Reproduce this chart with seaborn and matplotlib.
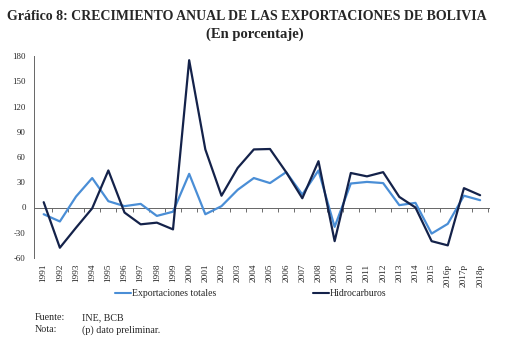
import matplotlib
matplotlib.use("Agg")
import matplotlib.pyplot as plt
import seaborn as sns
import pandas as pd
import numpy as np

years = ["1991", "1992", "1993", "1994", "1995", "1996", "1997", "1998", "1999",
         "2000", "2001", "2002", "2003", "2004", "2005", "2006", "2007", "2008",
         "2009", "2010", "2011", "2012", "2013", "2014", "2015", "2016p",
         "2017p", "2018p"]
exportaciones_totales = [-8, -16.6, 13, 35, 7.5, 1.6, 4.3, -10, -5, 40, -8, 1.6,
                         21, 35, 29, 42, 15.4, 44, -23, 28.5, 30.4, 29, 2.8,
                         5.5, -31, -19.4, 14, 8.7]
hidrocarburos = [6.3, -47.8, -24, -1, 44, -6, -20, -18, -26, 175, 69, 14, 47,
                 69, 69.5, 42, 11, 55, -40, 41, 37, 42, 12.6, 0, -40, -45, 23,
                 14.6]
series_names = ["Exportaciones totales", "Hidrocarburos"]
series_colors = ["#4A8ED6", "#14224A"]
y_ticks = [-60, -30, 0, 30, 60, 90, 120, 150, 180]

sns.set_theme(style="white")
plt.rcParams["font.family"] = ["Liberation Serif", "DejaVu Serif"]

df = pd.DataFrame({
    "pos": list(range(len(years))) * 2,
    "valor": exportaciones_totales + hidrocarburos,
    "serie": [series_names[0]] * len(years) + [series_names[1]] * len(years),
})

fig = plt.figure(figsize=(5.12, 3.42), dpi=100)
ax = fig.add_axes([34 / 512, 1 - 258 / 342, (489 - 34) / 512, (258 - 56) / 342])

sns.lineplot(data=df, x="pos", y="valor", hue="serie", hue_order=series_names,
             palette=series_colors, linewidth=1.6, ax=ax, legend=False)

ax.set_xlim(-0.6, len(years) - 0.45)
ax.set_ylim(-60, 180)
ax.set_yticks(y_ticks)
ax.set_yticklabels([str(v) for v in y_ticks], fontsize=6.3)
ax.set_xticks(range(len(years)))
ax.set_xticklabels(years, rotation=90, fontsize=6.7)
ax.tick_params(axis="x", length=0, pad=4)
ax.tick_params(axis="y", length=3, width=0.6, color="#555555", direction="out", pad=3)
ax.set_xlabel("")
ax.set_ylabel("")
for side in ["top", "right", "bottom"]:
    ax.spines[side].set_visible(False)
ax.spines["left"].set_color("#666666")
ax.spines["left"].set_linewidth(0.7)

# category axis drawn along the zero line, ticks between categories
zero_frac = (0 - (-60)) / (180 - (-60))
sec = ax.secondary_xaxis(zero_frac)
sec.set_xticks(np.arange(0.5, len(years) - 0.5 + 0.01, 1.0))
sec.set_xticklabels([])
sec.tick_params(length=3, width=0.6, color="#555555", direction="out")
sec.spines["bottom"].set_color("#666666")
sec.spines["bottom"].set_linewidth(0.7)

handles = [plt.Line2D([], [], color=c, lw=1.5) for c in series_colors]
fig.legend(handles, series_names, loc="center", bbox_to_anchor=(0.49, 1 - 294 / 342),
           ncol=2, frameon=False, fontsize=7, handlelength=1.6, handletextpad=0.1,
           columnspacing=10)

fig.text(247 / 512, 1 - 16 / 342, "Gráfico 8: CRECIMIENTO ANUAL DE LAS EXPORTACIONES DE BOLIVIA",
         ha="center", va="center", fontsize=10, fontweight="bold")
fig.text(255 / 512, 1 - 34 / 342, "(En porcentaje)", ha="center", va="center",
         fontsize=10.5, fontweight="bold")

fig.text(35 / 512, 1 - 318 / 342, "Fuente:", ha="left", va="center", fontsize=7.2)
fig.text(82 / 512, 1 - 318 / 342, "INE, BCB", ha="left", va="center", fontsize=7.2)
fig.text(35 / 512, 1 - 330 / 342, "Nota:", ha="left", va="center", fontsize=7.2)
fig.text(82 / 512, 1 - 330 / 342, "(p) dato preliminar.", ha="left", va="center", fontsize=7.2)

fig.savefig("out.png", dpi=100, facecolor="white")
